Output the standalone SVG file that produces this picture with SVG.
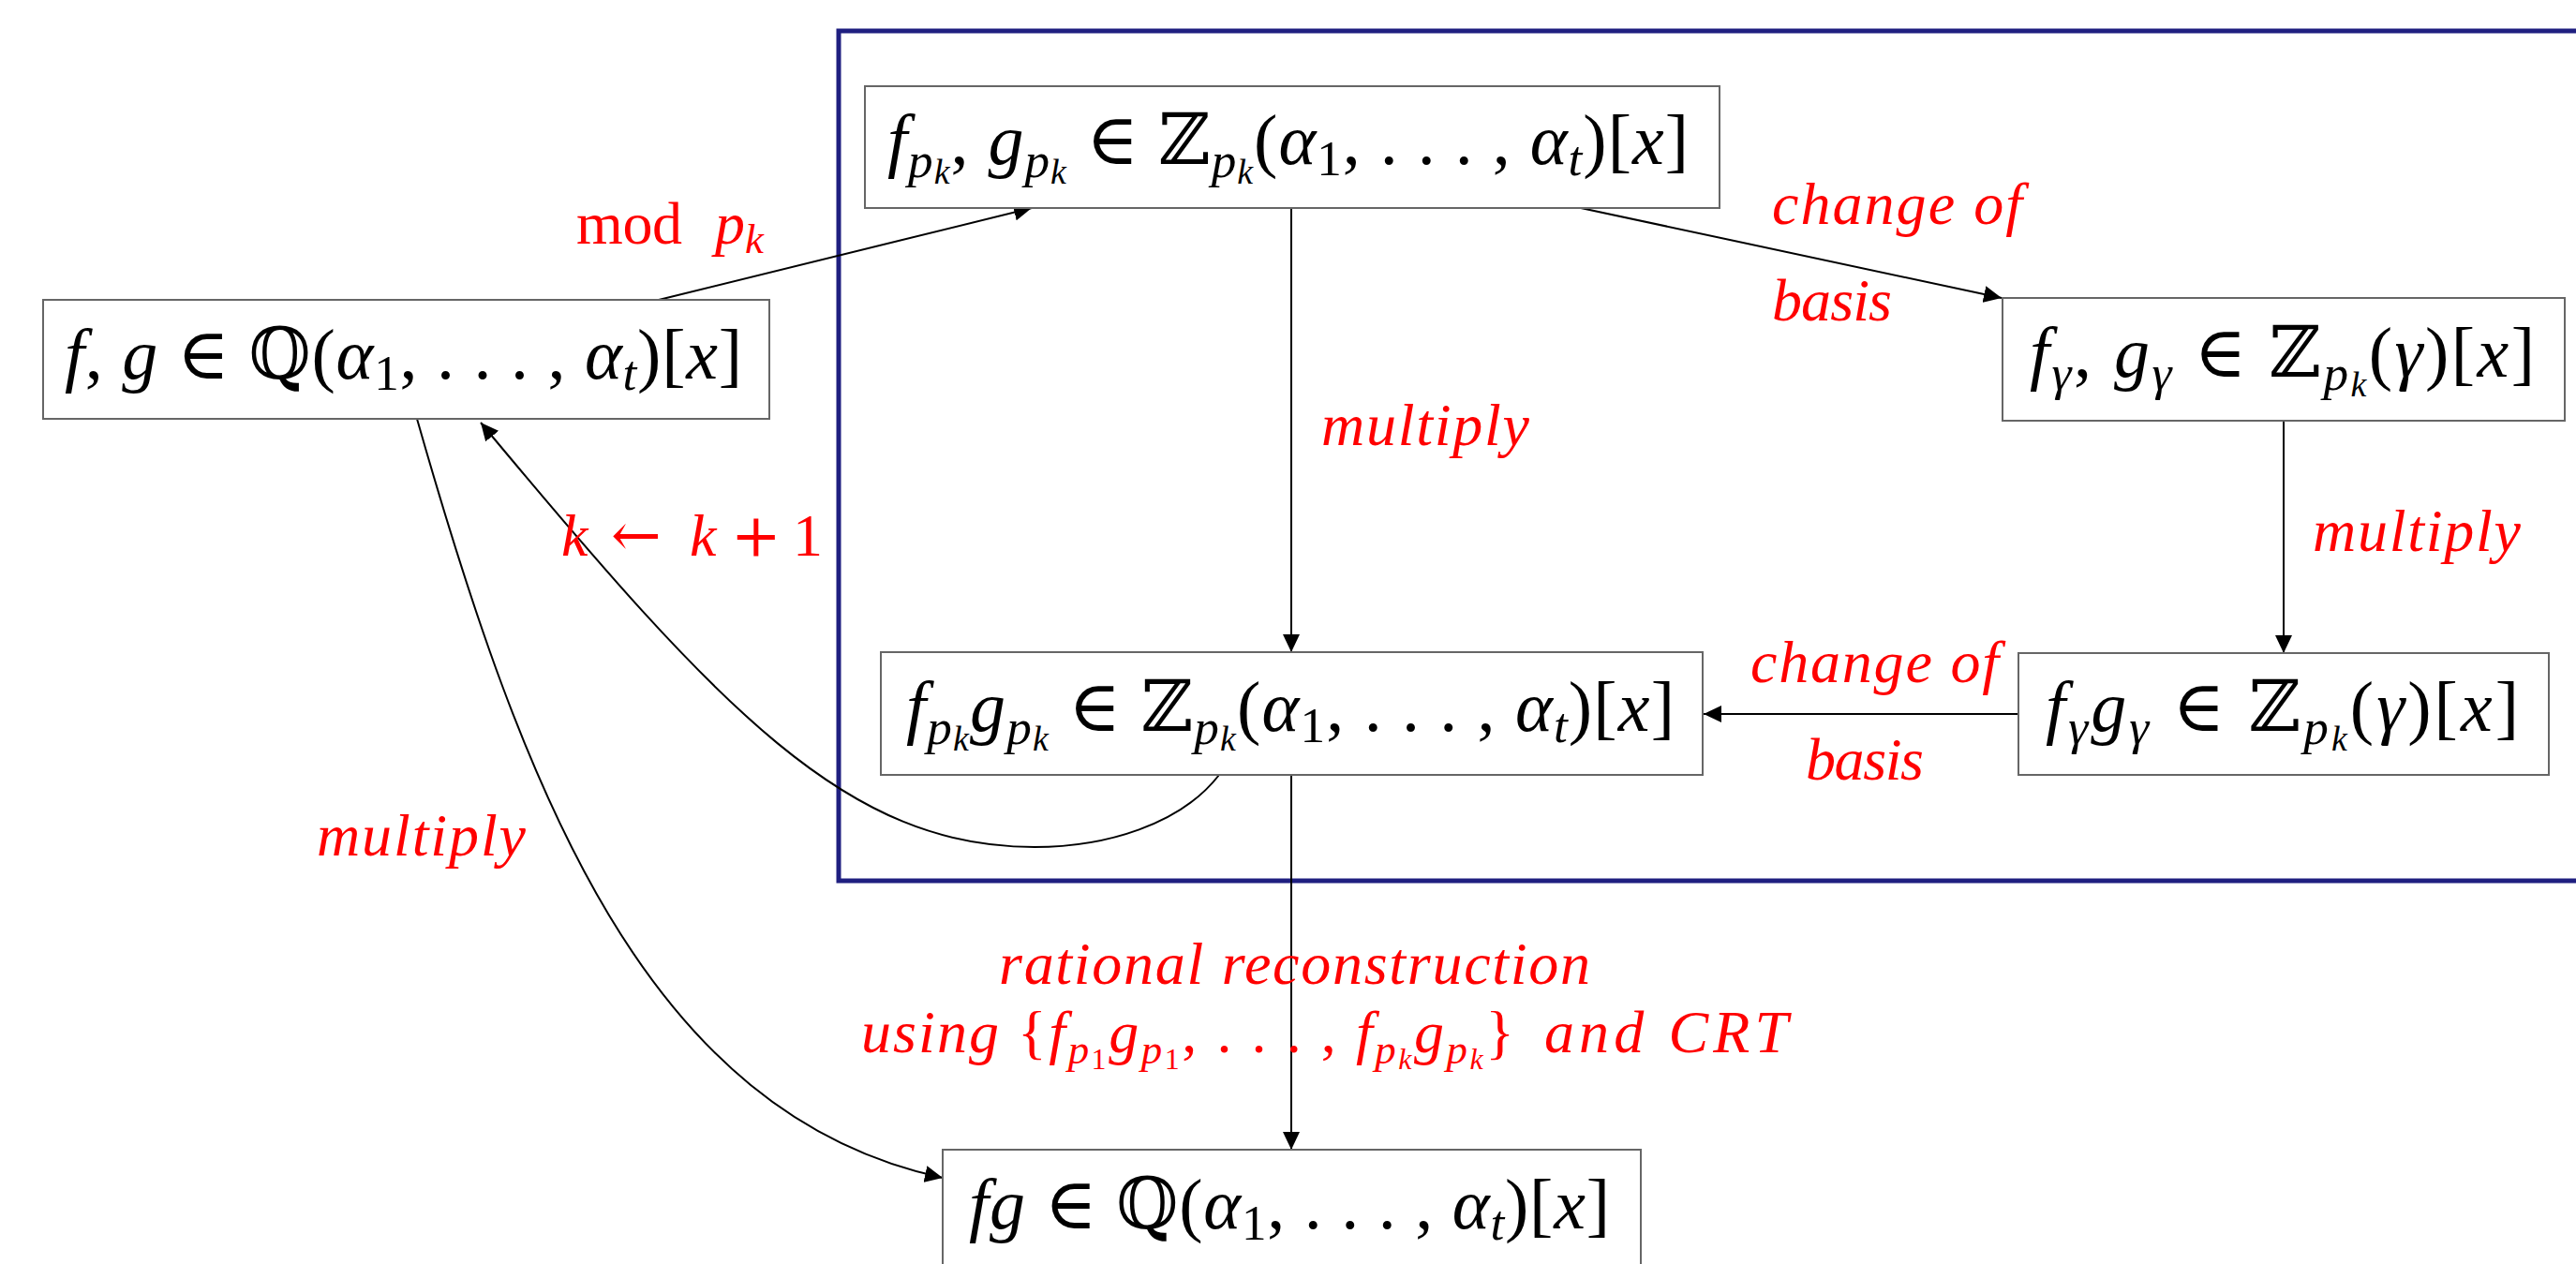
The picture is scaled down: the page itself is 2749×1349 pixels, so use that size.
<svg xmlns="http://www.w3.org/2000/svg" width="2749" height="1349" viewBox="0 0 2749 1349">
<style>
.bg{fill:#fff}
.frame{fill:none;stroke:#1f1f80;stroke-width:5}
.box{fill:#fff;stroke:#666;stroke-width:2}
.bx{font-family:"Liberation Serif","Times New Roman","DejaVu Serif","Noto Serif",serif;font-size:76px;fill:#000}
.lb{font-family:"Liberation Serif","Times New Roman","DejaVu Serif","Noto Serif",serif;font-size:64px;fill:#f00;font-style:italic}
.sym{font-family:"DejaVu Serif",serif;font-style:normal}
.it{font-style:italic}
.up{font-style:normal}
.s{font-size:70%}
.ss{font-size:50%}
.edge{fill:none;stroke:#000;stroke-width:2}
</style>
<defs>
<marker id="ah" markerUnits="userSpaceOnUse" markerWidth="20" markerHeight="18" refX="19" refY="9" orient="auto">
<path d="M0,0 L19,9 L0,18 Z" fill="#000"/>
</marker>
</defs>
<rect class="bg" x="0" y="0" width="2749" height="1349"/>
<rect id="frame" class="frame" x="895" y="33" width="1870" height="907"/>

<g id="connectors">
<path class="edge" d="M703,320 L1101,222" marker-end="url(#ah)"/>
<path class="edge" d="M1687,222 L2136,318" marker-end="url(#ah)"/>
<path class="edge" d="M1378,222 L1378,696" marker-end="url(#ah)"/>
<path class="edge" d="M2437,449 L2437,697" marker-end="url(#ah)"/>
<path class="edge" d="M2154,762 L1818,762" marker-end="url(#ah)"/>
<path class="edge" d="M1378,827 L1378,1227" marker-end="url(#ah)"/>
<path class="edge" d="M1301,827 C1260,880 1180,904 1104,904 C904,904 770,760 513,451" marker-end="url(#ah)"/>
<path class="edge" d="M445,447 C559,847 690,1189 1006,1257" marker-end="url(#ah)"/>
</g>

<g id="node-fg">
<rect class="box" x="46" y="320" width="775" height="127"/>
<text class="bx" x="69" y="404" textLength="723" lengthAdjust="spacing"><tspan class="it">f</tspan>, <tspan class="it">g</tspan> ∈ ℚ(<tspan class="it">α</tspan><tspan class="s" dy="12">1</tspan><tspan dy="-12">, . . . , </tspan><tspan class="it">α</tspan><tspan class="it s" dy="12">t</tspan><tspan dy="-12">)[</tspan><tspan class="it">x</tspan>]</text>
</g>

<g id="node-fpk">
<rect class="box" x="923" y="92" width="912" height="130"/>
<text class="bx" x="947" y="175" textLength="855" lengthAdjust="spacing"><tspan class="it">f</tspan><tspan class="it s" dy="14">p</tspan><tspan class="it ss" dy="7">k</tspan><tspan dy="-21">, </tspan><tspan class="it">g</tspan><tspan class="it s" dy="14">p</tspan><tspan class="it ss" dy="7">k</tspan><tspan dy="-21"> ∈ ℤ</tspan><tspan class="it s" dy="14">p</tspan><tspan class="it ss" dy="7">k</tspan><tspan dy="-21">(</tspan><tspan class="it">α</tspan><tspan class="s" dy="12">1</tspan><tspan dy="-12">, . . . , </tspan><tspan class="it">α</tspan><tspan class="it s" dy="12">t</tspan><tspan dy="-12">)[</tspan><tspan class="it">x</tspan>]</text>
</g>

<g id="node-fgamma">
<rect class="box" x="2137" y="318" width="600" height="131"/>
<text class="bx" x="2166" y="402" textLength="539" lengthAdjust="spacing"><tspan class="it">f</tspan><tspan class="it s" dy="14">γ</tspan><tspan dy="-14">, </tspan><tspan class="it">g</tspan><tspan class="it s" dy="14">γ</tspan><tspan dy="-14"> ∈ ℤ</tspan><tspan class="it s" dy="14">p</tspan><tspan class="it ss" dy="7">k</tspan><tspan dy="-21">(</tspan><tspan class="it">γ</tspan>)[<tspan class="it">x</tspan>]</text>
</g>

<g id="node-fpkgpk">
<rect class="box" x="940" y="696" width="877" height="131"/>
<text class="bx" x="967" y="780" textLength="820" lengthAdjust="spacing"><tspan class="it">f</tspan><tspan class="it s" dy="14">p</tspan><tspan class="it ss" dy="7">k</tspan><tspan class="it" dy="-21">g</tspan><tspan class="it s" dy="14">p</tspan><tspan class="it ss" dy="7">k</tspan><tspan dy="-21"> ∈ ℤ</tspan><tspan class="it s" dy="14">p</tspan><tspan class="it ss" dy="7">k</tspan><tspan dy="-21">(</tspan><tspan class="it">α</tspan><tspan class="s" dy="12">1</tspan><tspan dy="-12">, . . . , </tspan><tspan class="it">α</tspan><tspan class="it s" dy="12">t</tspan><tspan dy="-12">)[</tspan><tspan class="it">x</tspan>]</text>
</g>

<g id="node-fgammaggamma">
<rect class="box" x="2154" y="697" width="566" height="130"/>
<text class="bx" x="2183" y="780" textLength="505" lengthAdjust="spacing"><tspan class="it">f</tspan><tspan class="it s" dy="14">γ</tspan><tspan class="it" dy="-14">g</tspan><tspan class="it s" dy="14">γ</tspan><tspan dy="-14"> ∈ ℤ</tspan><tspan class="it s" dy="14">p</tspan><tspan class="it ss" dy="7">k</tspan><tspan dy="-21">(</tspan><tspan class="it">γ</tspan>)[<tspan class="it">x</tspan>]</text>
</g>

<g id="node-result">
<rect class="box" x="1006" y="1227" width="745" height="140"/>
<text class="bx" x="1034" y="1311" textLength="684" lengthAdjust="spacing"><tspan class="it">fg</tspan> ∈ ℚ(<tspan class="it">α</tspan><tspan class="s" dy="12">1</tspan><tspan dy="-12">, . . . , </tspan><tspan class="it">α</tspan><tspan class="it s" dy="12">t</tspan><tspan dy="-12">)[</tspan><tspan class="it">x</tspan>]</text>
</g>

<g id="labels">
<text class="lb up" x="615" y="260" textLength="113" lengthAdjust="spacing">mod</text>
<text class="lb" x="763" y="260"><tspan>p</tspan><tspan class="s" dy="10">k</tspan></text>
<text class="lb" x="1891" y="239" textLength="267" lengthAdjust="spacing">change of</text>
<text class="lb" x="1891" y="342" textLength="128" lengthAdjust="spacing">basis</text>
<text class="lb" x="1410" y="475" textLength="222" lengthAdjust="spacing">multiply</text>
<text class="lb" x="2468" y="588" textLength="222" lengthAdjust="spacing">multiply</text>
<text class="lb" x="599" y="593">k</text>
<text class="lb sym" x="652" y="593" font-size="68">←</text>
<text class="lb" x="736" y="593">k</text>
<text class="lb sym" x="780" y="593">+</text>
<text class="lb up" x="846" y="593">1</text>
<text class="lb" x="338" y="913" textLength="223" lengthAdjust="spacing">multiply</text>
<text class="lb" x="1868" y="728" textLength="265" lengthAdjust="spacing">change of</text>
<text class="lb" x="1927" y="832" textLength="126" lengthAdjust="spacing">basis</text>
<text class="lb" x="1066" y="1050" textLength="631" lengthAdjust="spacing">rational reconstruction</text>
<text class="lb" x="919" y="1123" textLength="147" lengthAdjust="spacing">using</text>
<text class="lb" x="1086" y="1123" textLength="530" lengthAdjust="spacing"><tspan class="up">{</tspan><tspan>f</tspan><tspan class="s" dy="12">p</tspan><tspan class="up ss" dy="6">1</tspan><tspan dy="-18">g</tspan><tspan class="s" dy="12">p</tspan><tspan class="up ss" dy="6">1</tspan><tspan class="up" dy="-18">, . . . , </tspan><tspan>f</tspan><tspan class="s" dy="12">p</tspan><tspan class="ss" dy="6">k</tspan><tspan dy="-18">g</tspan><tspan class="s" dy="12">p</tspan><tspan class="ss" dy="6">k</tspan><tspan class="up" dy="-18">}</tspan></text>
<text class="lb" x="1648" y="1123" textLength="260" lengthAdjust="spacing">and CRT</text>
</g>
</svg>
